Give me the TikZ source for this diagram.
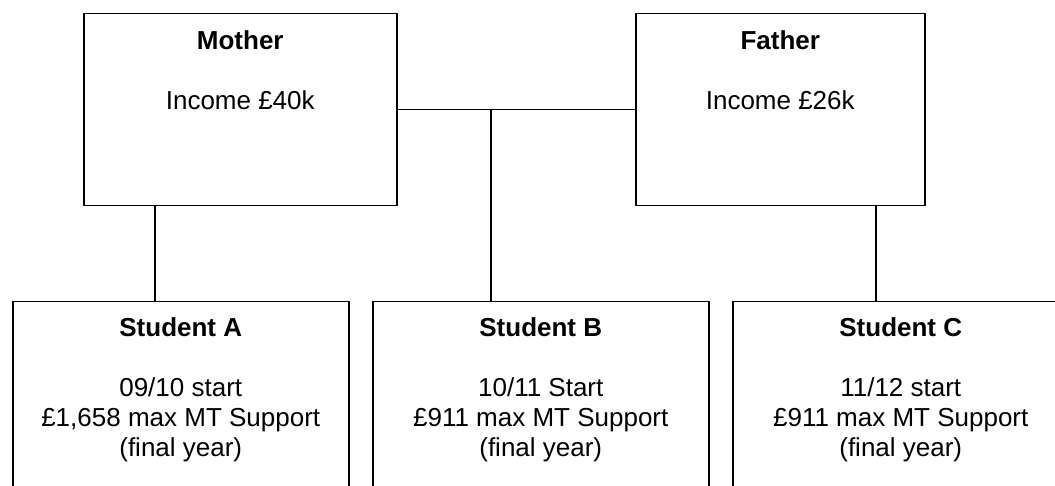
\documentclass[tikz,border=0pt]{standalone}
\usepackage{fontspec}
\setmainfont{Liberation Sans}
\begin{document}
\begin{tikzpicture}[x=1pt,y=-1pt,
  box/.style={draw=black,line width=1.5pt,rectangle,anchor=north west,inner sep=0pt},
  parent/.style={box,minimum height=192pt},
  student/.style={box,minimum width=336pt,minimum height=230pt},
  ttl/.style={font=\fontsize{26}{30}\selectfont\bfseries,inner sep=0pt},
  txt/.style={font=\fontsize{26}{30}\selectfont,align=center,inner sep=0pt},
  conn/.style={draw=black,line width=1.5pt}]
\useasboundingbox (0,0) rectangle (1055,486);
\clip (0,0) rectangle (1055,486);
\node[parent,minimum width=313pt] (mother) at (83,13) {};
\node[parent,minimum width=289pt] (father) at (635,13) {};
\node[student] (sA) at (12,301) {};
\node[student] (sB) at (372,301) {};
\node[student] (sC) at (732,301) {};
\node[ttl] (tM) at ([yshift=-27pt]mother.north) {Mother};
\node[txt] (iM) at ([yshift=-87pt]mother.north) {Income £40k};
\node[ttl] (tF) at ([yshift=-27pt]father.north) {Father};
\node[txt] (iF) at ([yshift=-87pt]father.north) {Income £26k};
\node[ttl] (tA) at ([yshift=-26pt]sA.north) {Student A};
\node[txt] (dA) at ([yshift=-119pt]sA.north) {09/10 start\\£1,658 max MT Support\\(final year)};
\node[ttl] (tB) at ([yshift=-26pt]sB.north) {Student B};
\node[txt] (dB) at ([yshift=-119pt]sB.north) {10/11 Start\\£911 max MT Support\\(final year)};
\node[ttl] (tC) at ([yshift=-26pt]sC.north) {Student C};
\node[txt] (dC) at ([yshift=-119pt]sC.north) {11/12 start\\£911 max MT Support\\(final year)};
\draw[conn] (mother.east) -- (father.west);
\draw[conn] ([xshift=72pt]mother.south west) -- ([xshift=72pt]mother.south west |- sA.north);
\draw[conn] ([xshift=241pt]father.south west) -- ([xshift=241pt]father.south west |- sC.north);
\draw[conn] ([xshift=119pt]sB.north west) -- ([xshift=119pt]sB.north west |- mother.east);
\end{tikzpicture}
\end{document}
